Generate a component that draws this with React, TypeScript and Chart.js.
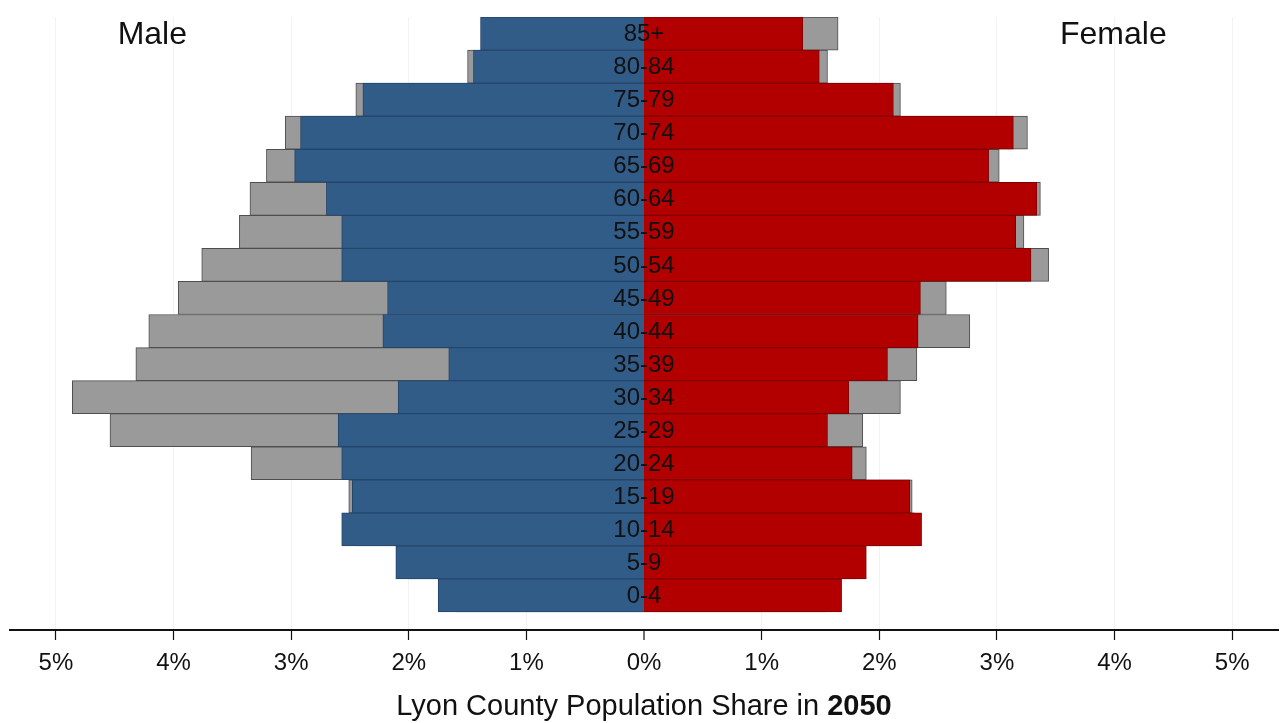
import React, { useEffect, useRef } from 'react';
import { Chart, registerables } from 'chart.js';

Chart.register(...registerables);

// Age groups, youngest first (drawn bottom to top)
const AGE_GROUPS = ['0-4', '5-9', '10-14', '15-19', '20-24', '25-29', '30-34', '35-39', '40-44', '45-49', '50-54', '55-59', '60-64', '65-69', '70-74', '75-79', '80-84', '85+'];

// Population shares in percent
const MALE_2050 = [1.75, 2.11, 2.57, 2.48, 2.57, 2.60, 2.09, 1.66, 2.22, 2.18, 2.57, 2.57, 2.70, 2.97, 2.92, 2.39, 1.45, 1.39];
const MALE_BASE = [1.60, 2.00, 2.45, 2.51, 3.34, 4.54, 4.86, 4.32, 4.21, 3.96, 3.76, 3.44, 3.35, 3.21, 3.05, 2.45, 1.50, 1.30];
const FEMALE_2050 = [1.68, 1.89, 2.36, 2.26, 1.77, 1.56, 1.74, 2.07, 2.33, 2.35, 3.29, 3.16, 3.34, 2.93, 3.14, 2.12, 1.49, 1.35];
const FEMALE_BASE = [1.55, 1.80, 2.30, 2.28, 1.89, 1.86, 2.18, 2.32, 2.77, 2.57, 3.44, 3.23, 3.37, 3.02, 3.26, 2.18, 1.56, 1.65];

const X_TICKS = [-5, -4, -3, -2, -1, 0, 1, 2, 3, 4, 5];

const TITLE_TEXT = 'Lyon County Population Share in ';
const TITLE_YEAR = '2050';
const SIDE_LABELS = [
  { text: 'Male', x: -4.18 },
  { text: 'Female', x: 3.99 },
];

const FONT = "'Liberation Sans', Arial, Helvetica, sans-serif";

export default function App() {
  const ref = useRef<HTMLCanvasElement>(null);

  useEffect(() => {
    const canvas = ref.current;
    if (!canvas) return;
    const n = AGE_GROUPS.length;
    const toPoints = (arr: number[], sign: number) => arr.map((v, i) => ({ x: sign * v, y: i }));

    const overlay = {
      id: 'overlay',
      afterDatasetsDraw(chart: any) {
        const { ctx } = chart;
        const xs = chart.scales.x;
        const ys = chart.scales.y;
        ctx.save();
        ctx.fillStyle = '#111';
        ctx.textAlign = 'center';
        ctx.textBaseline = 'middle';
        const x0 = xs.getPixelForValue(0);
        ctx.font = `24px ${FONT}`;
        AGE_GROUPS.forEach((g, i) => {
          ctx.fillText(g, x0, ys.getPixelForValue(i) + 1);
        });
        ctx.font = `32px ${FONT}`;
        SIDE_LABELS.forEach((l) => {
          ctx.fillText(l.text, xs.getPixelForValue(l.x), ys.getPixelForValue(n - 1) + 1.5);
        });
        // title with bold year
        ctx.font = `29px ${FONT}`;
        const w1 = ctx.measureText(TITLE_TEXT).width;
        ctx.font = `bold 29px ${FONT}`;
        const w2 = ctx.measureText(TITLE_YEAR).width;
        const start = x0 - (w1 + w2) / 2;
        const ty = chart.height - 16;
        ctx.textAlign = 'left';
        ctx.font = `29px ${FONT}`;
        ctx.fillText(TITLE_TEXT, start, ty);
        ctx.font = `bold 29px ${FONT}`;
        ctx.fillText(TITLE_YEAR, start + w1, ty);
        ctx.restore();
      },
    };

    const common = {
      grouped: false,
      categoryPercentage: 1,
      barPercentage: 1,
      borderWidth: 1,
    };

    const chart = new Chart(canvas, {
      type: 'bar',
      data: {
        datasets: [
          { ...common, label: 'Male 2050', data: toPoints(MALE_2050, -1), backgroundColor: '#315C88', borderColor: '#24456A', order: 1 },
          { ...common, label: 'Female 2050', data: toPoints(FEMALE_2050, 1), backgroundColor: '#B20000', borderColor: '#7E0000', order: 1 },
          { ...common, label: 'Male base', data: toPoints(MALE_BASE, -1), backgroundColor: '#9A9A9A', borderColor: '#4E4E4E', order: 2 },
          { ...common, label: 'Female base', data: toPoints(FEMALE_BASE, 1), backgroundColor: '#9A9A9A', borderColor: '#4E4E4E', order: 2 },
        ],
      } as any,
      options: {
        indexAxis: 'y',
        animation: false,
        responsive: false,
        maintainAspectRatio: false,
        layout: { padding: { top: 17, left: 10, right: 3, bottom: 0 } },
        plugins: {
          legend: { display: false },
          tooltip: { enabled: false },
        },
        scales: {
          x: {
            type: 'linear',
            min: -5.39,
            max: 5.39,
            afterBuildTicks: (s: any) => {
              s.ticks = X_TICKS.map((v) => ({ value: v }));
            },
            afterFit: (s: any) => {
              s.height = 93;
            },
            grid: {
              color: 'rgba(0,0,0,0.05)',
              lineWidth: (c: any) => (c.tick && c.tick.value === 0 ? 0 : 1),
              drawTicks: true,
              tickLength: 10,
              tickColor: '#111',
              tickWidth: 1.2,
            },
            border: { display: true, color: '#111', width: 2 },
            ticks: {
              padding: 9,
              color: '#111',
              font: { family: FONT, size: 24 },
              maxRotation: 0,
              autoSkip: false,
              callback: (v: any) => Math.abs(Number(v)) + '%',
            },
          },
          y: {
            type: 'linear',
            display: false,
            offset: false,
            grid: { offset: false },
            min: -1.045,
            max: 17.5,
            afterBuildTicks: (s: any) => {
              s.ticks = AGE_GROUPS.map((_, i) => ({ value: i }));
            },
          },
        },
      } as any,
      plugins: [overlay],
    });

    return () => chart.destroy();
  }, []);

  return (
    <div style={{ position: 'fixed', left: 0, top: 0, width: 1281, height: 723, background: '#fff' }}>
      <canvas ref={ref} width={1281} height={723} style={{ display: 'block' }} />
    </div>
  );
}
